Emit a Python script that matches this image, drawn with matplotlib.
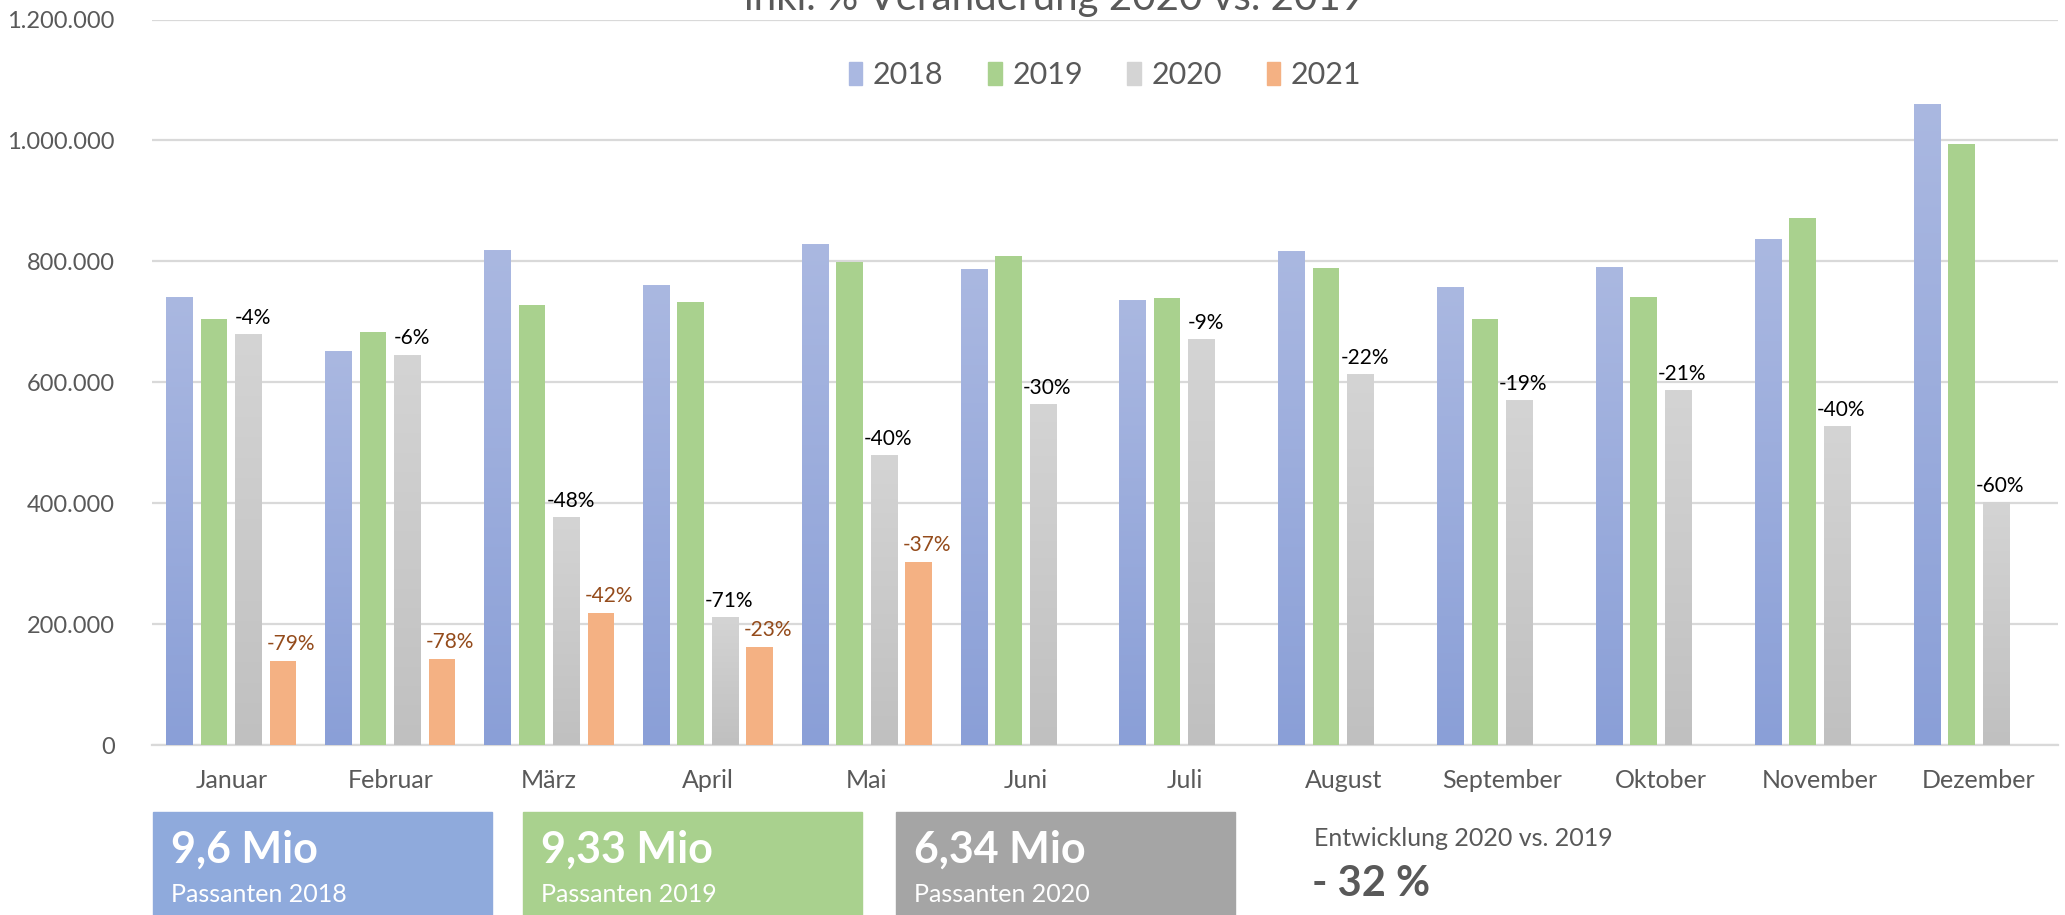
import numpy as np
import matplotlib
matplotlib.use("Agg")
import matplotlib.pyplot as plt
from matplotlib.patches import Rectangle
from matplotlib.colors import LinearSegmentedColormap
from matplotlib.ticker import FuncFormatter

# ---------------- data ----------------
months = ["Januar", "Februar", "März", "April", "Mai", "Juni", "Juli",
          "August", "September", "Oktober", "November", "Dezember"]
years = ["2018", "2019", "2020", "2021"]
v2018 = [740500, 650100, 817700, 760200, 827900, 786400, 734600,
         816500, 756200, 789800, 835700, 1058400]
v2019 = [705100, 683200, 727800, 733400, 799400, 808500, 739700,
         789200, 705600, 741400, 872400, 994900]
v2020 = [678700, 644600, 376700, 210000, 478000, 562200, 670900,
         612200, 569000, 586100, 526300, 400200]
v2021 = [139900, 142600, 219100, 162200, 302700]
pct2020 = ["-4%", "-6%", "-48%", "-71%", "-40%", "-30%", "-9%",
           "-22%", "-19%", "-21%", "-40%", "-60%"]
pct2021 = ["-79%", "-78%", "-42%", "-23%", "-37%"]
yticks = [0, 200000, 400000, 600000, 800000, 1000000, 1200000]
totals = ["9,6 Mio", "9,33 Mio", "6,34 Mio"]
total_labels = ["Passanten 2018", "Passanten 2019", "Passanten 2020"]
dev_label = "Entwicklung 2020 vs. 2019"
dev_value = "- 32 %"
title_text = "inkl. % Veränderung 2020 vs. 2019"

# ---------------- style ----------------
FONT = "Lato"
plt.rcParams["font.family"] = [FONT, "DejaVu Sans"]
GRAY_TXT = "#595959"
W, H = 2065, 915
fig = plt.figure(figsize=(W / 100, H / 100), dpi=100)
fig.patch.set_facecolor("white")

def fx(x):
    return x / W

def fy(y):
    return 1 - y / H

ax_left, ax_right, ax_top, ax_bottom = 152, 2058, 19.5, 745.3
ax = fig.add_axes([fx(ax_left), fy(ax_bottom), fx(ax_right - ax_left),
                   (ax_bottom - ax_top) / H])

x = np.arange(len(months))
pitch = 0.217
bw = 0.167
offsets = [-1.5 * pitch, -0.5 * pitch, 0.5 * pitch, 1.5 * pitch]

c2018 = ("#8A9FD7", "#AAB8E1")   # bottom, top
c2019 = "#A9D18E"
c2020 = ("#C0C0C0", "#D4D4D4")
c2021 = "#F4B183"

b18 = ax.bar(x + offsets[0], v2018, bw, color=c2018[0], zorder=3)
b19 = ax.bar(x + offsets[1], v2019, bw, color=c2019, zorder=3)
b20 = ax.bar(x + offsets[2], v2020, bw, color=c2020[0], zorder=3)
b21 = ax.bar(np.arange(len(v2021)) + offsets[3], v2021, bw, color=c2021, zorder=3)

grad = np.linspace(0, 1, 256).reshape(-1, 1)
for bars, cols in ((b18, c2018), (b20, c2020)):
    cmap = LinearSegmentedColormap.from_list("g", [cols[0], cols[1]])
    for p in bars:
        x0, w_, h_ = p.get_x(), p.get_width(), p.get_height()
        ax.imshow(grad, extent=[x0, x0 + w_, 0, h_], origin="lower",
                  cmap=cmap, aspect="auto", zorder=3.1, interpolation="bilinear")

# data labels
for p, t in zip(b20, pct2020):
    ax.annotate(t, (p.get_x() + p.get_width() / 2, p.get_height()),
                xytext=(3, 5), textcoords="offset points", ha="center",
                va="bottom", fontsize=15, color="black", zorder=5)
for p, t in zip(b21, pct2021):
    ax.annotate(t, (p.get_x() + p.get_width() / 2, p.get_height()),
                xytext=(6, 5), textcoords="offset points", ha="center",
                va="bottom", fontsize=15, color="#944B1B", zorder=5)

ax.set_xlim(-0.5, len(months) - 0.5)
ax.set_ylim(0, 1200000)
ax.set_yticks(yticks)
ax.yaxis.set_major_formatter(FuncFormatter(lambda v, _: f"{int(v):,}".replace(",", ".")))
ax.set_xticks(x)
ax.set_xticklabels(months)
ax.tick_params(axis="y", length=0, pad=27, labelsize=17, labelcolor=GRAY_TXT)
ax.tick_params(axis="x", length=0, pad=17, labelsize=18, labelcolor=GRAY_TXT)
ax.grid(axis="y", color="#D9D9D9", linewidth=1.6, zorder=0)
ax.set_axisbelow(True)
for s in ("top", "right", "left"):
    ax.spines[s].set_visible(False)
ax.spines["bottom"].set_color("#D9D9D9")
ax.spines["bottom"].set_linewidth(1.6)

# legend
handles = [Rectangle((0, 0), 1, 1, color=c) for c in
           (c2018[1], c2019, c2020[1], c2021)]
fig.legend(handles, years, loc="center",
           bbox_to_anchor=(fx(1105), fy(75)), ncol=4, frameon=False,
           fontsize=22, handlelength=0.45, handleheight=0.75,
           handletextpad=0.35, columnspacing=1.45, labelcolor=GRAY_TXT)

# title (cropped at top, as in the reference)
fig.text(fx(1054), fy(10), title_text, ha="center", va="baseline",
         fontsize=29, color=GRAY_TXT)

# summary boxes
box_x = [153, 523, 896]
box_w = 339
box_cols = ["#8FAADC", "#A9D18E", "#A5A5A5"]
for bx, col, big, small in zip(box_x, box_cols, totals, total_labels):
    fig.add_artist(Rectangle((fx(bx), 0), fx(box_w), fy(812),
                             transform=fig.transFigure, color=col, zorder=1))
    fig.text(fx(bx + 18), fy(850), big, ha="left", va="center",
             fontsize=31, fontweight="bold", color="white", zorder=2)
    fig.text(fx(bx + 18), fy(895), small, ha="left", va="center",
             fontsize=18, color="white", zorder=2)

fig.text(fx(1314), fy(838), dev_label, ha="left", va="center",
         fontsize=18, color=GRAY_TXT)
fig.text(fx(1312), fy(884), dev_value, ha="left", va="center",
         fontsize=30, fontweight="bold", color=GRAY_TXT)

fig.savefig("out.png", dpi=100, facecolor="white")
